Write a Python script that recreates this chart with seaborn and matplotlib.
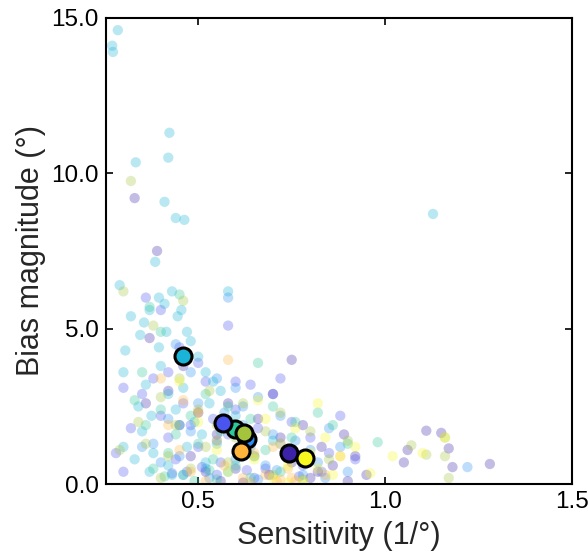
import pandas as pd
import matplotlib
matplotlib.use("Agg")
import matplotlib.pyplot as plt
import seaborn as sns

# groups and colours
groups = ["indigo", "blue", "azure", "cyan", "teal", "olive", "orange", "yellow"]
colors = ["#3b22a8", "#4a55f0", "#2a8ff5", "#1ab4d8", "#2ec89a", "#a4c43c", "#ffb43c", "#f8f820"]

# individual points per group (sensitivity, bias)
cyan_x = [0.270, 0.272, 0.285, 0.333, 0.423, 0.420, 0.410, 0.440, 0.463, 1.128,
          0.290, 0.305, 0.300, 0.320, 0.345, 0.355, 0.370, 0.395, 0.410, 0.430,
          0.445, 0.455, 0.470, 0.480, 0.500, 0.520, 0.540, 0.560, 0.580, 0.360,
          0.340, 0.375, 0.400, 0.420, 0.440, 0.460, 0.490, 0.510, 0.530, 0.330,
          0.300, 0.380, 0.420, 0.470, 0.550, 0.600, 0.620, 0.650, 0.700, 0.350,
          0.395, 0.415, 0.385, 0.43, 0.37, 0.52, 0.58, 0.45]
cyan_y = [14.1, 13.9, 14.6, 10.35, 11.3, 10.5, 9.08, 8.56, 8.50, 8.69,
          6.4, 4.3, 3.6, 5.4, 4.8, 5.2, 5.6, 6.0, 5.8, 6.2,
          5.4, 5.6, 4.9, 4.6, 4.1, 3.6, 3.3, 3.0, 6.2, 3.2,
          2.5, 2.2, 3.8, 2.9, 2.4, 3.1, 2.0, 1.6, 2.6, 0.8,
          1.2, 1.0, 0.6, 1.2, 1.3, 2.2, 1.8, 0.9, 1.4, 1.7,
          4.4, 4.9, 7.15, 0.3, 0.4, 0.7, 0.4, 1.9]

blue_x = [0.30, 0.32, 0.35, 0.38, 0.40, 0.42, 0.44, 0.46, 0.48, 0.50,
          0.52, 0.54, 0.56, 0.58, 0.60, 0.62, 0.64, 0.66, 0.68, 0.70,
          0.72, 0.75, 0.78, 0.80, 0.85, 0.88, 0.92, 0.40, 0.45, 0.50,
          0.36, 0.55, 0.47, 0.65, 0.30, 0.28, 0.42, 0.60, 0.72, 0.58,
          0.43, 0.51, 0.63, 0.77, 0.83]
blue_y = [3.1, 1.8, 2.9, 3.4, 2.2, 1.5, 0.8, 2.6, 1.9, 1.2,
          3.3, 2.1, 0.7, 1.6, 2.4, 1.1, 3.2, 1.8, 0.5, 2.9,
          1.3, 2.0, 0.6, 1.5, 1.0, 2.2, 0.8, 5.6, 4.4, 3.9,
          6.0, 0.3, 0.4, 0.2, 0.4, 1.0, 3.6, 3.3, 3.4, 5.1,
          0.35, 0.55, 0.45, 0.25, 0.4]

azure_x = [0.38, 0.42, 0.45, 0.48, 0.50, 0.52, 0.55, 0.57, 0.60, 0.62,
           0.64, 0.66, 0.68, 0.70, 0.72, 0.74, 0.76, 0.78, 0.80, 0.82,
           0.85, 0.88, 0.90, 0.55, 0.60, 0.48, 0.44, 0.58, 1.22, 0.53,
           0.46, 0.66, 0.84, 0.40, 0.35, 0.62, 0.71, 0.79]
azure_y = [1.3, 2.1, 0.9, 1.7, 2.6, 0.5, 1.4, 2.3, 0.8, 1.9,
           1.2, 2.8, 0.6, 1.6, 2.2, 0.9, 1.4, 0.3, 1.1, 0.7,
           1.8, 1.2, 0.4, 3.4, 3.1, 3.6, 4.5, 6.0, 0.55, 0.2,
           0.3, 0.15, 0.2, 0.7, 1.2, 2.5, 0.45, 0.75]

teal_x = [0.33, 0.36, 0.38, 0.40, 0.42, 0.44, 0.46, 0.48, 0.50, 0.52,
          0.54, 0.56, 0.58, 0.60, 0.62, 0.64, 0.66, 0.68, 0.70, 0.72,
          0.75, 0.78, 0.82, 0.86, 0.90, 0.98, 0.40, 0.37, 0.45, 0.35,
          0.55, 0.64, 0.49, 0.76, 0.41, 0.53]
teal_y = [2.7, 1.9, 0.5, 2.4, 1.0, 1.6, 0.3, 2.2, 1.3, 2.9,
          0.8, 1.7, 2.5, 0.6, 1.4, 2.1, 3.9, 1.1, 2.5, 0.4,
          1.5, 0.9, 2.3, 1.9, 1.3, 1.35, 4.9, 5.7, 6.1, 3.6,
          0.15, 0.2, 0.1, 2.0, 0.25, 0.45]

olive_x = [0.30, 0.32, 0.34, 0.36, 0.38, 0.40, 0.42, 0.44, 0.46, 0.48,
           0.50, 0.52, 0.55, 0.58, 0.60, 0.62, 0.65, 0.68, 0.72, 0.75,
           0.80, 0.85, 0.90, 1.07, 1.11, 1.16, 1.16, 1.17, 0.40, 0.29,
           0.53, 0.45, 0.70, 0.78]
olive_y = [6.2, 9.75, 2.0, 1.3, 5.1, 2.8, 0.9, 1.9, 5.9, 0.5,
           2.4, 1.2, 1.9, 0.7, 1.5, 2.6, 0.9, 1.7, 2.3, 1.1,
           1.7, 0.8, 1.4, 1.25, 0.95, 1.5, 0.9, 0.2, 0.2, 1.1,
           3.0, 3.4, 0.3, 0.15]

orange_x = [0.42, 0.45, 0.48, 0.50, 0.52, 0.55, 0.57, 0.60, 0.62, 0.65,
            0.68, 0.70, 0.72, 0.74, 0.76, 0.80, 0.84, 0.88, 0.40, 0.58,
            0.46, 0.64, 0.71, 0.75]
orange_y = [1.9, 1.1, 0.4, 2.3, 0.1, 1.4, 0.6, 1.8, 0.2, 1.0,
            0.3, 1.2, 0.15, 0.5, 0.1, 0.8, 0.3, 0.9, 3.4, 4.0,
            2.7, 0.05, 0.1, 0.2]

indigo_x = [0.33, 0.37, 0.39, 0.42, 0.45, 0.48, 0.50, 0.52, 0.55, 0.58,
            0.60, 0.63, 0.66, 0.69, 0.72, 0.75, 0.78, 0.80, 0.83, 0.86,
            0.89, 0.92, 0.95, 1.05, 1.06, 1.11, 1.15, 1.17, 1.18, 1.28,
            0.75, 0.70, 0.46, 0.36, 0.90, 0.62, 0.56, 0.82]
indigo_y = [9.2, 4.7, 7.5, 3.0, 1.9, 0.9, 2.3, 0.4, 1.6, 2.6,
            0.5, 1.3, 2.1, 0.3, 1.5, 0.7, 1.9, 0.2, 1.2, 0.6,
            1.6, 0.9, 0.3, 0.7, 1.1, 1.72, 1.65, 1.15, 0.55, 0.65,
            4.0, 2.9, 3.8, 2.6, 0.1, 0.05, 0.1, 0.4]

yellow_x = [0.45, 0.50, 0.55, 0.58, 0.62, 0.65, 0.68, 0.70, 0.72, 0.74,
            0.76, 0.78, 0.80, 0.82, 0.84, 0.86, 0.88, 0.92, 0.96, 1.02,
            1.10, 1.16, 0.82, 0.66, 0.74]
yellow_y = [3.3, 2.0, 1.1, 0.4, 1.5, 0.8, 2.1, 0.2, 1.3, 0.6,
            1.8, 0.1, 1.0, 0.5, 1.5, 0.3, 0.9, 1.2, 0.35, 0.9,
            1.0, 1.5, 2.6, 2.7, 0.05]

# group means
mean_x = [0.742, 0.631, 0.599, 0.567, 0.460, 0.623, 0.615, 0.785]
mean_y = [1.00, 1.45, 1.77, 1.96, 4.12, 1.64, 1.06, 0.84]
mean_groups = ["indigo", "azure", "teal", "blue", "cyan", "olive", "orange", "yellow"]

pts = {"indigo": (indigo_x, indigo_y), "blue": (blue_x, blue_y),
       "azure": (azure_x, azure_y), "cyan": (cyan_x, cyan_y),
       "teal": (teal_x, teal_y), "olive": (olive_x, olive_y),
       "orange": (orange_x, orange_y), "yellow": (yellow_x, yellow_y)}

rows = []
for g, (xs, ys) in pts.items():
    for x, y in zip(xs, ys):
        rows.append({"sens": x, "bias": y, "group": g})
df = pd.DataFrame(rows)
means = pd.DataFrame({"sens": mean_x, "bias": mean_y, "group": mean_groups})

palette = dict(zip(groups, colors))

sns.set_style("ticks")
plt.rcParams["font.family"] = ["Liberation Sans", "DejaVu Sans"]

fig = plt.figure(figsize=(5.88, 5.54), dpi=100)
ax = fig.add_axes([0.180, 0.126, 0.793, 0.842])

sns.scatterplot(data=df, x="sens", y="bias", hue="group", palette=palette,
                alpha=0.3, s=55, linewidth=0, legend=False, ax=ax)
for _, r in means.iterrows():
    ax.scatter(r["sens"], r["bias"], s=150, color=palette[r["group"]],
               edgecolor="black", linewidth=2.2, zorder=5)

ax.set_xlim(0.253, 1.5)
ax.set_ylim(0, 15)
ax.set_xticks([0.5, 1.0, 1.5])
ax.set_xticklabels(["0.5", "1.0", "1.5"])
ax.set_yticks([0, 5, 10, 15])
ax.set_yticklabels(["0.0", "5.0", "10.0", "15.0"])
ax.tick_params(direction="in", top=True, right=True, labelsize=17.5,
               length=5, width=1.2, colors="black", pad=5)
for sp in ax.spines.values():
    sp.set_linewidth(1.5)
    sp.set_color("black")
ax.set_xlabel("Sensitivity (1/°)", fontsize=22, labelpad=6)
ax.set_ylabel("Bias magnitude (°)", fontsize=22, labelpad=4)

fig.savefig("out.png", dpi=100)
